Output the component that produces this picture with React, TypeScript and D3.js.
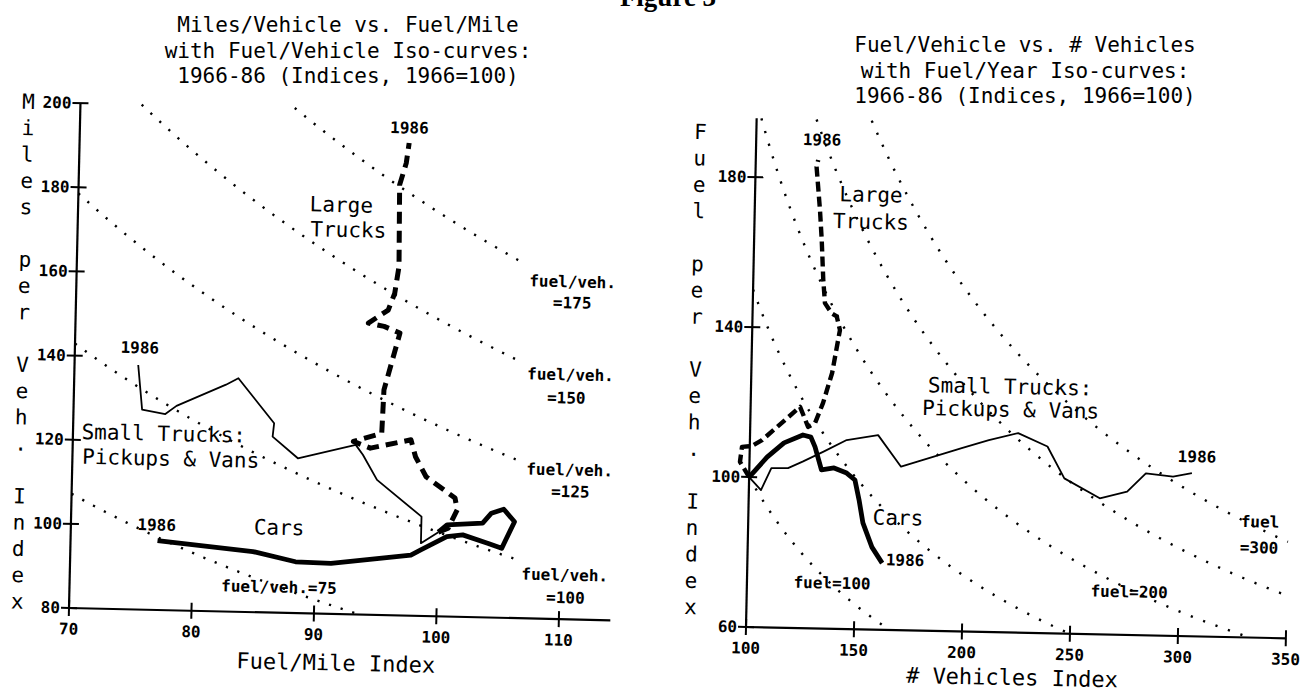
import React, { useEffect, useRef } from 'react';
import * as d3 from 'd3';

// Left panel: miles/vehicle index vs fuel/mile index (1966 -> 1986)
const carsFuelPerMile = [100, 100.7, 103.6, 104.3, 105.3, 106.2, 105.2, 104.1, 102.0, 100.7, 98.6, 97.8, 91.3, 88.4, 84.9, 77.1];
const carsMilesPerVeh = [100, 101.8, 102.4, 104.8, 105.8, 102.9, 96.5, 97.6, 99.5, 99.0, 95.7, 94.4, 92.0, 92.2, 94.4, 96.5];
const smallFuelPerMile = [100, 98.6, 98.6, 94.9, 93.7, 93.1, 88.4, 86.3, 86.4, 83.4, 82.4, 78.4, 77.5, 75.6, 75.2];
const smallMilesPerVeh = [100, 97.3, 103.6, 112.1, 118.0, 120.3, 116.8, 121.8, 125.0, 135.5, 133.9, 128.6, 126.6, 127.5, 138.1];
const largeFuelPerMile = [100, 100.8, 101.5, 101.3, 98.9, 98.0, 97.6, 94.3, 92.9, 95.2, 95.3, 96.5, 95.2, 93.9, 95.5, 96.0, 96.3, 96.2, 96.7, 96.9];
const largeMilesPerVeh = [100, 101.0, 105.4, 108.2, 113.1, 117.8, 121.8, 119.6, 121.1, 123.2, 133.5, 147.1, 148.6, 149.3, 152.5, 156.5, 162.9, 182.3, 187.5, 192.3];

// Right panel: fuel/vehicle index vs number of vehicles index
const carsVehicles = [100, 108.1, 115.8, 124.5, 128.2, 130.2, 133.4, 139.2, 145.1, 149.0, 151.1, 153.1, 157.5, 162.4];
const carsFuelPerVeh = [100, 105.4, 109.3, 111.5, 111.0, 108.4, 102.3, 102.9, 101.6, 99.8, 94.5, 88.4, 82.0, 77.8];
const smallVehicles = [100, 105.6, 110.2, 117.9, 124.6, 134.2, 144.8, 159.3, 170.2, 198.1, 210.6, 224.1, 237.8, 245.9, 262.5, 275.1, 283.6, 296.2, 304.9];
const smallFuelPerVeh = [100, 96.6, 102.5, 102.6, 104.4, 107.2, 110.4, 111.9, 103.6, 108.9, 111.2, 113.2, 109.8, 101.4, 96.3, 98.2, 103.2, 102.5, 103.5];
const largeVehicles = [100, 95.6, 96.4, 101.0, 105.6, 122.9, 126.8, 130.0, 133.5, 137.4, 140.6, 139.0, 136.6, 133.4, 132.4, 131.3, 130.2, 128.2, 128.9];
const largeFuelPerVeh = [100, 104.0, 108.0, 108.3, 109.9, 119.0, 113.7, 114.8, 120.2, 128.2, 139.7, 143.3, 144.1, 146.8, 153.0, 163.6, 171.6, 183.1, 184.9];

// iso-curve levels (product of the two indices / 100)
const leftIsoLevels = [75, 100, 125, 150, 175];
const rightIsoLevels = [100, 150, 200, 250, 300];

const leftXTicks = [70, 80, 90, 100, 110];
const leftYTicks = [80, 100, 120, 140, 160, 180, 200];
const rightXTicks = [100, 150, 200, 250, 300, 350];
const rightYTicks = [60, 100, 140, 180];

const leftTitle = ['Miles/Vehicle vs. Fuel/Mile', 'with Fuel/Vehicle Iso-curves:', '1966-86 (Indices, 1966=100)'];
const rightTitle = ['Fuel/Vehicle vs. # Vehicles', 'with Fuel/Year Iso-curves:', '1966-86 (Indices, 1966=100)'];

const MONO = '"DejaVu Sans Mono", "Liberation Mono", monospace';

type Label = { text: string; x: number; y: number; size: number; anchor: string; bold?: boolean };

const drawPanel = (svg: any, p: any) => {
  const g = svg.append('g').attr('transform', `translate(${p.ox},${p.oy}) rotate(${p.angle})`);
  const x = p.x;
  const y = p.y;
  const [xMin] = x.domain();
  const [yMin] = y.domain();

  // dotted iso-curves
  const line = d3.line<number[]>().x(d => x(d[0])).y(d => y(d[1]));
  p.iso.forEach((F: number) => {
    const x0 = Math.max(xMin, (100 * F) / p.yMax);
    const x1 = Math.min(p.isoXMax, (100 * F) / yMin);
    const pts = d3.range(0, 121).map(i => {
      const xv = x0 + ((x1 - x0) * i) / 120;
      return [xv, (100 * F) / xv];
    });
    g.append('path')
      .attr('d', line(pts))
      .attr('fill', 'none')
      .attr('stroke', '#000')
      .attr('stroke-width', 2.4)
      .attr('stroke-dasharray', p.isoDash);
  });

  // axes
  g.append('line')
    .attr('x1', x(xMin)).attr('x2', x(p.xMax))
    .attr('y1', y(yMin)).attr('y2', y(yMin))
    .attr('stroke', '#000').attr('stroke-width', 2.2);
  g.append('line')
    .attr('x1', x(xMin)).attr('x2', x(xMin))
    .attr('y1', y(yMin)).attr('y2', y(p.yMax))
    .attr('stroke', '#000').attr('stroke-width', 2.2);

  p.xTicks.forEach((t: number) => {
    g.append('line')
      .attr('x1', x(t)).attr('x2', x(t))
      .attr('y1', y(yMin) - 8).attr('y2', y(yMin) + 8)
      .attr('stroke', '#000').attr('stroke-width', 2);
    g.append('text')
      .attr('x', x(t)).attr('y', y(yMin) + 21)
      .attr('text-anchor', 'middle').attr('dominant-baseline', 'central')
      .attr('font-family', MONO).attr('font-size', 16).attr('font-weight', 'bold')
      .text(t);
  });
  p.yTicks.forEach((t: number) => {
    g.append('line')
      .attr('x1', x(xMin) - 8).attr('x2', x(xMin) + 8)
      .attr('y1', y(t)).attr('y2', y(t))
      .attr('stroke', '#000').attr('stroke-width', 2);
    g.append('text')
      .attr('x', x(xMin) - 9).attr('y', y(t))
      .attr('text-anchor', 'end').attr('dominant-baseline', 'central')
      .attr('font-family', MONO).attr('font-size', 16).attr('font-weight', 'bold')
      .text(t);
  });

  // vertical stacked y-axis title
  p.yTitle.split('').forEach((ch: string, i: number) => {
    g.append('text')
      .attr('x', x(xMin) + p.yTitleDx)
      .attr('y', y(p.yTitleTop) + i * p.yTitleStep)
      .attr('text-anchor', 'middle').attr('dominant-baseline', 'central')
      .attr('font-family', MONO).attr('font-size', 21)
      .text(ch);
  });

  g.append('text')
    .attr('x', p.xTitleX).attr('y', y(yMin) + p.xTitleDy)
    .attr('text-anchor', 'middle').attr('dominant-baseline', 'central')
    .attr('font-family', MONO).attr('font-size', 22)
    .text(p.xTitle);

  // data paths
  p.series.forEach((s: any) => {
    const pts = s.x.map((v: number, i: number) => [v, s.y[i]]);
    g.append('path')
      .attr('d', line(pts))
      .attr('fill', 'none')
      .attr('stroke', '#000')
      .attr('stroke-width', s.width)
      .attr('stroke-linejoin', 'round')
      .attr('stroke-dasharray', s.dash || null);
  });

  p.labels.forEach((l: Label) => {
    g.append('text')
      .attr('x', x(l.x)).attr('y', y(l.y))
      .attr('text-anchor', l.anchor).attr('dominant-baseline', 'central')
      .attr('font-family', MONO).attr('font-size', l.size)
      .attr('font-weight', l.bold ? 'bold' : 'normal')
      .text(l.text);
  });
};

const App = () => {
  const svgRef = useRef<SVGSVGElement>(null);

  useEffect(() => {
    const svg = d3.select(svgRef.current);
    svg.selectAll('*').remove();

    svg.append('rect').attr('width', 1303).attr('height', 696).attr('fill', '#fff');

    // page heading, cut off by the top edge as in the scan
    svg.append('text')
      .attr('x', 668).attr('y', 6)
      .attr('text-anchor', 'middle')
      .attr('font-family', '"Liberation Serif", serif').attr('font-weight', 'bold').attr('font-size', 27)
      .text('Figure 3');

    const titles = [
      { lines: leftTitle, cx: 348, top: 25 },
      { lines: rightTitle, cx: 1025, top: 45 },
    ];
    titles.forEach(t => {
      t.lines.forEach((s, i) => {
        svg.append('text')
          .attr('x', t.cx).attr('y', t.top + i * 25.5)
          .attr('text-anchor', 'middle').attr('dominant-baseline', 'central')
          .attr('font-family', MONO).attr('font-size', 21)
          .text(s);
      });
    });

    drawPanel(svg, {
      ox: 69, oy: 608, angle: 1.3,
      x: d3.scaleLinear().domain([70, 110]).range([0, 490]),
      y: d3.scaleLinear().domain([80, 200]).range([0, -505]),
      xMax: 114.2, yMax: 200,
      xTicks: leftXTicks, yTicks: leftYTicks,
      iso: leftIsoLevels, isoXMax: 106.6, isoDash: '2.2 10',
      yTitle: 'Miles per Veh. Index', yTitleDx: -52, yTitleTop: 200, yTitleStep: 26.3,
      xTitle: 'Fuel/Mile Index', xTitleX: 268, xTitleDy: 49,
      series: [
        { x: smallFuelPerMile, y: smallMilesPerVeh, width: 1.8 },
        { x: carsFuelPerMile, y: carsMilesPerVeh, width: 4.8 },
        { x: largeFuelPerMile, y: largeMilesPerVeh, width: 5, dash: '12 7' },
      ],
      labels: [
        { text: 'Large', x: 88.9, y: 177.2, size: 21, anchor: 'start' },
        { text: 'Trucks', x: 89.0, y: 171.3, size: 21, anchor: 'start' },
        { text: 'Small Trucks:', x: 70.7, y: 121.9, size: 21, anchor: 'start' },
        { text: 'Pickups & Vans', x: 70.8, y: 116.0, size: 21, anchor: 'start' },
        { text: 'Cars', x: 87.0, y: 100.2, size: 21, anchor: 'middle' },
        { text: '1986', x: 77.0, y: 100.2, size: 16, anchor: 'middle', bold: true },
        { text: '1986', x: 75.3, y: 142.2, size: 16, anchor: 'middle', bold: true },
        { text: '1986', x: 96.9, y: 195.9, size: 16, anchor: 'middle', bold: true },
        { text: 'fuel/veh.=75', x: 87.1, y: 86.1, size: 16, anchor: 'middle', bold: true },
        { text: 'fuel/veh.', x: 110.4, y: 90.5, size: 16, anchor: 'middle', bold: true },
        { text: '=100', x: 110.5, y: 85.1, size: 16, anchor: 'middle', bold: true },
        { text: 'fuel/veh.', x: 110.6, y: 115.5, size: 16, anchor: 'middle', bold: true },
        { text: '=125', x: 110.7, y: 110.3, size: 16, anchor: 'middle', bold: true },
        { text: 'fuel/veh.', x: 110.5, y: 138.1, size: 16, anchor: 'middle', bold: true },
        { text: '=150', x: 110.2, y: 132.6, size: 16, anchor: 'middle', bold: true },
        { text: 'fuel/veh.', x: 110.5, y: 160.2, size: 16, anchor: 'middle', bold: true },
        { text: '=175', x: 110.5, y: 155.2, size: 16, anchor: 'middle', bold: true },
      ],
    });

    drawPanel(svg, {
      ox: 746, oy: 627, angle: 1.2,
      x: d3.scaleLinear().domain([100, 350]).range([0, 540]),
      y: d3.scaleLinear().domain([60, 180]).range([0, -450]),
      xMax: 350, yMax: 195.7,
      xTicks: rightXTicks, yTicks: rightYTicks,
      iso: rightIsoLevels, isoXMax: 350, isoDash: '2.2 11',
      yTitle: 'Fuel per Veh. Index', yTitleDx: -56, yTitleTop: 191.7, yTitleStep: 26.4,
      xTitle: '# Vehicles Index', xTitleX: 267, xTitleDy: 45,
      series: [
        { x: smallVehicles, y: smallFuelPerVeh, width: 1.8 },
        { x: carsVehicles, y: carsFuelPerVeh, width: 4.8 },
        { x: largeVehicles, y: largeFuelPerVeh, width: 4.4, dash: '10 5' },
      ],
      labels: [
        { text: 'Large', x: 153.7, y: 175.9, size: 21, anchor: 'middle' },
        { text: 'Trucks', x: 153.9, y: 168.7, size: 21, anchor: 'middle' },
        { text: 'Small Trucks:', x: 181.9, y: 125.5, size: 21, anchor: 'start' },
        { text: 'Pickups & Vans', x: 179.4, y: 119.4, size: 21, anchor: 'start' },
        { text: 'Cars', x: 169.3, y: 89.9, size: 21, anchor: 'middle' },
        { text: '1986', x: 173.0, y: 78.7, size: 16, anchor: 'middle', bold: true },
        { text: '1986', x: 307.1, y: 107.9, size: 16, anchor: 'middle', bold: true },
        { text: '1986', x: 130.5, y: 190.3, size: 16, anchor: 'middle', bold: true },
        { text: 'fuel=100', x: 139.4, y: 72.2, size: 16, anchor: 'middle', bold: true },
        { text: 'fuel=200', x: 277.0, y: 71.5, size: 16, anchor: 'middle', bold: true },
        { text: 'fuel', x: 336.9, y: 90.9, size: 16, anchor: 'middle', bold: true },
        { text: '=300', x: 336.7, y: 84.0, size: 16, anchor: 'middle', bold: true },
      ],
    });
  }, []);

  return (
    <svg
      ref={svgRef}
      width={1303}
      height={696}
      style={{ position: 'absolute', left: 0, top: 0, background: '#fff' }}
    />
  );
};

export default App;
